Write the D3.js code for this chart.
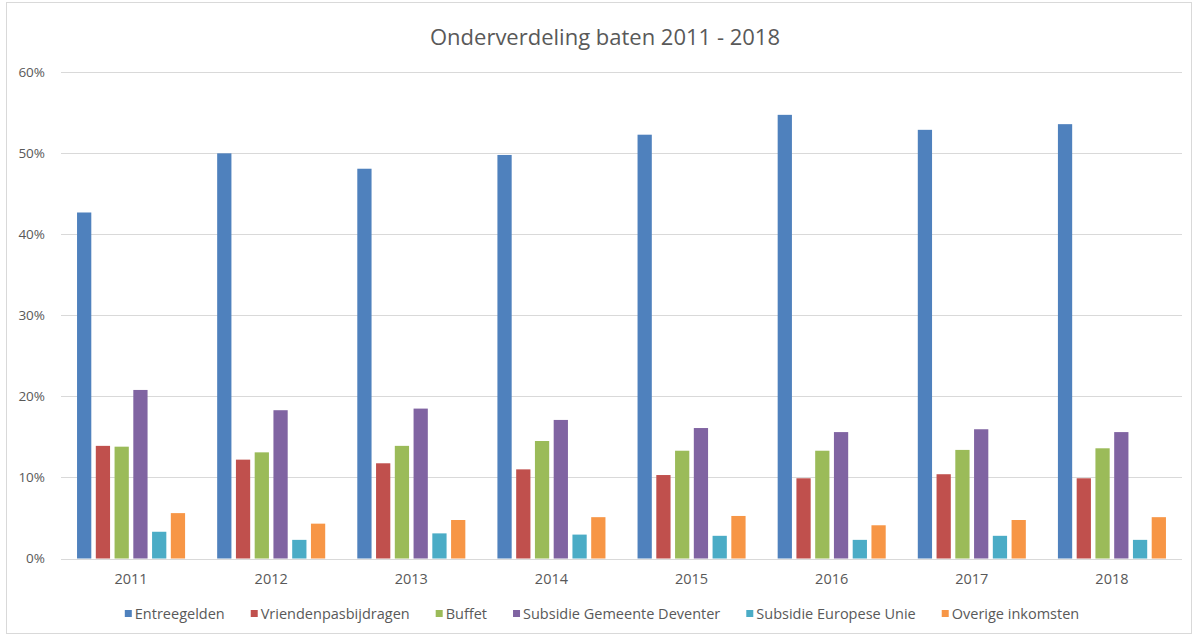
<!DOCTYPE html>
<html>
<head>
<meta charset="utf-8">
<script src="https://cdn.jsdelivr.net/npm/d3@7/dist/d3.min.js"></script>
<style>
  body { margin: 0; background: #fff; }
  text { font-family: "Open Sans", sans-serif; fill: #595959; }
</style>
</head>
<body>
<div id="chart"></div>
<script>
// data (percent)
var years = ["2011", "2012", "2013", "2014", "2015", "2016", "2017", "2018"];
var seriesNames = ["Entreegelden", "Vriendenpasbijdragen", "Buffet", "Subsidie Gemeente Deventer", "Subsidie Europese Unie", "Overige inkomsten"];
var entreegelden = [42.7, 50.0, 48.1, 49.8, 52.3, 54.75, 52.9, 53.6];
var vriendenpas  = [13.9, 12.2, 11.75, 11.0, 10.3, 9.9, 10.4, 9.9];
var buffet       = [13.8, 13.1, 13.9, 14.5, 13.3, 13.3, 13.4, 13.6];
var gemeente     = [20.8, 18.3, 18.5, 17.1, 16.1, 15.6, 15.95, 15.6];
var europa       = [3.3, 2.3, 3.1, 2.95, 2.8, 2.3, 2.8, 2.3];
var overige      = [5.6, 4.3, 4.75, 5.1, 5.25, 4.1, 4.75, 5.1];
var yTicks = [0, 10, 20, 30, 40, 50, 60];
var colors = ["#4f81bd", "#c0504d", "#9bbb59", "#8064a2", "#4bacc6", "#f79646"];

var allValues = [entreegelden, vriendenpas, buffet, gemeente, europa, overige];

var width = 1198, height = 637;
var plot = { left: 61, right: 1182, top: 72.3, bottom: 558.5 };

var svg = d3.select("#chart").append("svg")
    .attr("width", width)
    .attr("height", height);

// chart border
svg.append("rect")
    .attr("x", 6.5).attr("y", 2.5)
    .attr("width", 1185).attr("height", 631)
    .attr("fill", "#fff")
    .attr("stroke", "#d9d9d9");

var x0 = d3.scaleBand()
    .domain(years)
    .range([plot.left, plot.right])
    .paddingInner(0.229)
    .paddingOuter(0.1145);

var x1 = d3.scaleBand()
    .domain(d3.range(seriesNames.length))
    .range([0, x0.bandwidth()])
    .paddingInner(0.24);

var y = d3.scaleLinear()
    .domain([0, 60])
    .range([plot.bottom, plot.top]);

// gridlines
svg.append("g")
  .selectAll("line")
  .data(yTicks)
  .enter().append("line")
    .attr("x1", plot.left).attr("x2", plot.right)
    .attr("y1", function(d) { return Math.round(y(d)) + 0.5 })
    .attr("y2", function(d) { return Math.round(y(d)) + 0.5 })
    .attr("stroke", "#d9d9d9")
    .attr("stroke-width", 1);

// y axis labels
var yAxis = svg.append("g")
    .attr("transform", "translate(" + plot.left + ",0)")
    .call(d3.axisLeft(y).tickValues(yTicks).tickSize(0).tickPadding(16)
      .tickFormat(function(d) { return d + "%" }));
yAxis.select(".domain").remove();
yAxis.selectAll("text")
    .style("font-family", "'Open Sans', sans-serif")
    .style("font-size", "13.5px")
    .attr("fill", "#595959");

// bars
var groups = svg.append("g")
  .selectAll("g")
  .data(years)
  .enter().append("g")
    .attr("transform", function(d) { return "translate(" + x0(d) + ",0)" });

groups.selectAll("rect")
  .data(function(d, i) { return allValues.map(function(s, k) { return { k: k, v: s[i] } }) })
  .enter().append("rect")
    .attr("x", function(d) { return x1(d.k) })
    .attr("width", x1.bandwidth())
    .attr("y", function(d) { return y(d.v) })
    .attr("height", function(d) { return y(0) - y(d.v) })
    .attr("fill", function(d) { return colors[d.k] });

// x axis (baseline + labels)
var xAxis = svg.append("g")
    .attr("transform", "translate(0," + (Math.round(y(0)) + 0.5) + ")")
    .call(d3.axisBottom(x0).tickSize(0).tickPadding(14));
xAxis.select(".domain").attr("stroke", "#d9d9d9").attr("d", "M" + plot.left + ",0H" + plot.right);
xAxis.selectAll("text")
    .style("font-family", "'Open Sans', sans-serif")
    .style("font-size", "14.5px")
    .attr("fill", "#595959");

// title
svg.append("text")
    .attr("x", 605)
    .attr("y", 45)
    .attr("text-anchor", "middle")
    .style("font-size", "22px")
    .text("Onderverdeling baten 2011 - 2018");

// legend
var legend = svg.append("g").attr("transform", "translate(0,614)");
var items = legend.selectAll("g")
  .data(seriesNames)
  .enter().append("g");
items.append("rect")
    .attr("width", 7).attr("height", 7)
    .attr("y", -4)
    .attr("fill", function(d, i) { return colors[i] });
items.append("text")
    .attr("x", 10)
    .attr("dy", "0.35em")
    .style("font-size", "14.5px")
    .text(function(d) { return d });

var pos = 0, gap = 26, starts = [];
items.each(function() {
  starts.push(pos);
  pos += d3.select(this).select("text").node().getComputedTextLength() + 10 + gap;
});
var total = pos - gap;
var legendLeft = 602 - total / 2;
items.attr("transform", function(d, i) { return "translate(" + (legendLeft + starts[i]) + ",0)" });
</script>
</body>
</html>
